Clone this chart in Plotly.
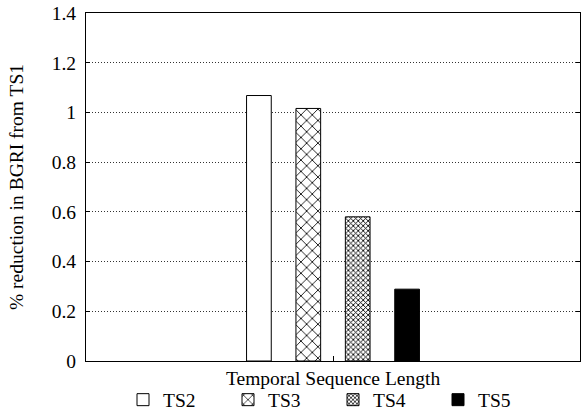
import plotly.graph_objects as go

series_names = ["TS2", "TS3", "TS4", "TS5"]
values = [1.068, 1.016, 0.58, 0.289]
group = ["All"]
y_ticks = [0, 0.2, 0.4, 0.6, 0.8, 1.0, 1.2, 1.4]
y_tick_labels = ["0", "0.2", "0.4", "0.6", "0.8", "1", "1.2", "1.4"]
x_title = "Temporal Sequence Length"
y_title = "% reduction in BGRI from TS1"

styles = [
    dict(color="white", pattern=None),
    dict(color="white", pattern=dict(shape="x", size=8, solidity=0.2, fgcolor="black", bgcolor="white", fgopacity=1)),
    dict(color="white", pattern=dict(shape="x", size=3.5, solidity=0.45, fgcolor="black", bgcolor="white", fgopacity=1)),
    dict(color="black", pattern=None),
]

FONT = "Liberation Serif"
FS = 19.5

fig = go.Figure()
for name, v, st in zip(series_names, values, styles):
    marker = dict(color=st["color"], line=dict(color="black", width=1))
    if st["pattern"] is not None:
        marker["pattern"] = st["pattern"]
    fig.add_trace(go.Bar(x=group, y=[v], name=name, marker=marker))

fig.update_layout(
    width=581, height=416,
    margin=dict(l=86, r=1, t=13, b=55),
    paper_bgcolor="white", plot_bgcolor="white",
    barmode="group", bargap=0.2, bargroupgap=0.5,
    font=dict(family=FONT, size=FS, color="black"),
    showlegend=True,
    legend=dict(orientation="h", x=0.5, xanchor="center",
                yref="container", y=0.0385, yanchor="middle",
                entrywidth=60, entrywidthmode="pixels",
                font=dict(family=FONT, size=FS), bgcolor="rgba(0,0,0,0)"),
    annotations=[dict(text=x_title, xref="paper", yref="paper", x=0.5, y=0,
                      xanchor="center", yanchor="middle", yshift=-17, showarrow=False,
                      font=dict(family=FONT, size=FS))],
)
fig.update_xaxes(
    type="category", range=[-1, 1], automargin=False,
    showticklabels=False, ticks="inside", ticklen=5, tickcolor="black",
    showline=True, linecolor="black", linewidth=1, mirror=True,
    showgrid=False, zeroline=False,
)
fig.update_yaxes(
    range=[0, 1.4], tickvals=y_ticks, ticktext=y_tick_labels, automargin=False,
    ticks="inside", ticklen=4, tickcolor="black", ticklabelstandoff=5,
    showline=True, linecolor="black", linewidth=1, mirror="ticks",
    showgrid=True, gridcolor="#333", griddash="1px,2px", gridwidth=1,
    zeroline=False,
    title=dict(text=y_title, standoff=22, font=dict(family=FONT, size=FS)),
)
fig.write_html("out.html")
